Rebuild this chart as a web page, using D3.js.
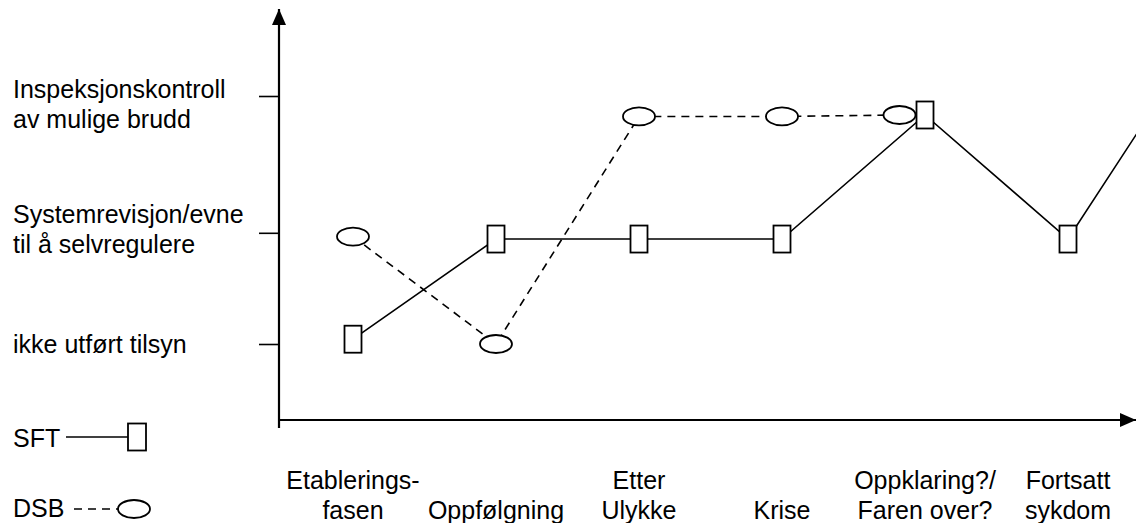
<!DOCTYPE html>
<html>
<head>
<meta charset="utf-8">
<script src="https://cdn.jsdelivr.net/npm/d3@7"></script>
<style>
  html, body { margin: 0; padding: 0; background: #fff; }
  svg { display: block; }
  text { font-family: "Liberation Sans", Arial, sans-serif; font-size: 25px; fill: #000; }
</style>
</head>
<body>
<svg id="chart" width="1136" height="523"></svg>
<script>
// ---- data ----
const categories = ["Etableringsfasen", "Oppfølgning", "Etter Ulykke", "Krise", "Oppklaring?/Faren over?", "Fortsatt sykdom", "(neste fase)"];
const categoryLabels = [["Etablerings-", "fasen"], ["Oppfølgning"], ["Etter", "Ulykke"], ["Krise"], ["Oppklaring?/", "Faren over?"], ["Fortsatt", "sykdom"], []];
const levelValues = [1, 2, 3];
const levelLabels = [["ikke utført tilsyn"], ["Systemrevisjon/evne", "til å selvregulere"], ["Inspeksjonskontroll", "av mulige brudd"]];
const sftValues = [1.05, 1.95, 1.95, 1.95, 2.87, 1.95, 3.5];
const dsbValues = [1.97, 1.0, 2.86, 2.86, 2.87, null, null];
const seriesNames = ["SFT", "DSB"];

// ---- layout ----
const svg = d3.select("#chart");
const axisX = 279, axisY = 420;
const x = d3.scalePoint().domain(categories).range([353, 1211]);
const y = d3.scalePow().exponent(1.4).domain([1, 3]).range([344, 96]);

const rectW = 17, rectH = 27, ellRx = 16, ellRy = 9;

// arrow markers
const defs = svg.append("defs");
defs.append("marker").attr("id", "arrow").attr("viewBox", "0 0 16 14")
  .attr("refX", 16).attr("refY", 7).attr("markerWidth", 16).attr("markerHeight", 14)
  .attr("markerUnits", "userSpaceOnUse").attr("orient", "auto")
  .append("path").attr("d", "M0,0 L16,7 L0,14 Z").attr("fill", "#000");

// axes
svg.append("line").attr("x1", axisX).attr("y1", 428).attr("x2", axisX).attr("y2", 9)
  .attr("stroke", "#000").attr("stroke-width", 2.2).attr("marker-end", "url(#arrow)");
svg.append("line").attr("x1", axisX - 1).attr("y1", axisY).attr("x2", 1136).attr("y2", axisY)
  .attr("stroke", "#000").attr("stroke-width", 2.2).attr("marker-end", "url(#arrow)");

const yAxis = svg.append("g").attr("transform", `translate(${axisX},0)`)
  .call(d3.axisLeft(y).tickValues(levelValues).tickSize(20).tickFormat(""));
yAxis.select(".domain").remove();
yAxis.selectAll(".tick line").attr("stroke", "#000").attr("stroke-width", 1.6);

// y level labels
levelValues.forEach((v, i) => {
  const lines = levelLabels[i];
  const lh = 30;
  const y0 = y(v) + 8.5 - (lines.length - 1) * lh / 2 + (lines.length > 1 ? (i === 2 ? 8 : -3) : 0);
  const t = svg.append("text").attr("x", 13).attr("y", y0);
  lines.forEach((l, k) => t.append("tspan").attr("x", 13).attr("y", y0 + k * lh).text(l));
});

// x category labels (bottom aligned)
categories.forEach((c, i) => {
  const lines = categoryLabels[i];
  const t = svg.append("text").attr("text-anchor", "middle");
  lines.forEach((l, k) => {
    t.append("tspan").attr("x", x(c)).attr("y", 519 - (lines.length - 1 - k) * 30).text(l);
  });
});

// series data with dodge for coinciding markers
const sft = categories.map((c, i) => ({ c, v: sftValues[i], dx: 0 }));
const dsb = categories.map((c, i) => ({
  c, v: dsbValues[i],
  dx: (dsbValues[i] != null && sftValues[i] != null && Math.abs(dsbValues[i] - sftValues[i]) < 0.1) ? -(ellRx + rectW / 2 + 1) : 0
}));

const line = d3.line().defined(d => d.v != null).x(d => x(d.c) + d.dx).y(d => y(d.v));

svg.append("path").datum(sft).attr("d", line).attr("fill", "none")
  .attr("stroke", "#000").attr("stroke-width", 1.6);
svg.append("path").datum(dsb).attr("d", line).attr("fill", "none")
  .attr("stroke", "#000").attr("stroke-width", 1.6).attr("stroke-dasharray", "8,6");

// markers
svg.append("g").selectAll("ellipse").data(dsb.filter(d => d.v != null)).join("ellipse")
  .attr("cx", d => x(d.c) + d.dx).attr("cy", d => y(d.v))
  .attr("rx", ellRx).attr("ry", ellRy)
  .attr("fill", "#fff").attr("stroke", "#000").attr("stroke-width", 1.8);
svg.append("g").selectAll("rect").data(sft.filter(d => d.v != null)).join("rect")
  .attr("x", d => x(d.c) + d.dx - rectW / 2).attr("y", d => y(d.v) - rectH / 2)
  .attr("width", rectW).attr("height", rectH)
  .attr("fill", "#fff").attr("stroke", "#000").attr("stroke-width", 1.8);

// legend
const leg = svg.append("g");
leg.append("text").attr("x", 13).attr("y", 447).text(seriesNames[0]);
leg.append("line").attr("x1", 66).attr("x2", 128).attr("y1", 437).attr("y2", 437)
  .attr("stroke", "#000").attr("stroke-width", 1.6);
leg.append("rect").attr("x", 128).attr("y", 437 - rectH / 2).attr("width", rectW + 1).attr("height", rectH)
  .attr("fill", "#fff").attr("stroke", "#000").attr("stroke-width", 1.8);
leg.append("text").attr("x", 13).attr("y", 517).text(seriesNames[1]);
leg.append("line").attr("x1", 74).attr("x2", 118).attr("y1", 509).attr("y2", 509)
  .attr("stroke", "#000").attr("stroke-width", 1.6).attr("stroke-dasharray", "8,6");
leg.append("ellipse").attr("cx", 134).attr("cy", 509).attr("rx", ellRx).attr("ry", ellRy)
  .attr("fill", "#fff").attr("stroke", "#000").attr("stroke-width", 1.8);
</script>
</body>
</html>
